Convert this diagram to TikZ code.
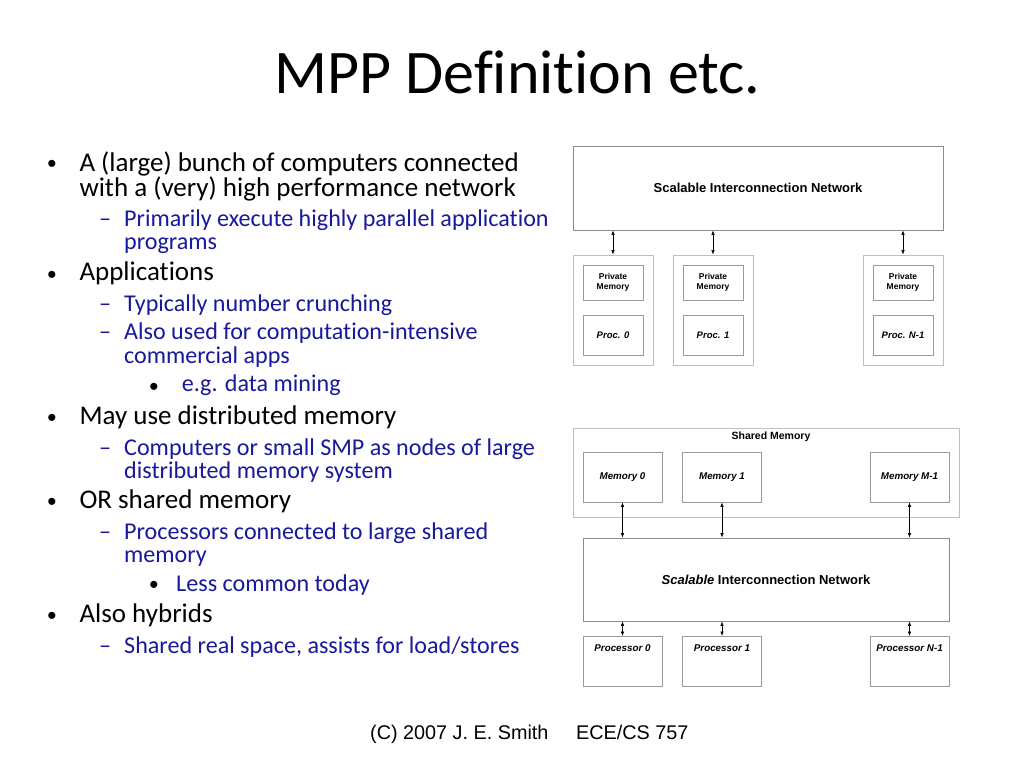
\documentclass[tikz,border=0pt]{standalone}
\usepackage{fontspec}
\setmainfont{Carlito}[Ligatures=NoCommon]
\newfontfamily\diagfont{Liberation Sans}
\usetikzlibrary{arrows.meta}
\definecolor{itemblue}{RGB}{25,25,155}

\begin{document}
\begin{tikzpicture}[x=1pt,y=-1pt,
  lone/.style={font=\fontsize{27}{27}\selectfont, anchor=base west, inner sep=0},
  ltwo/.style={font=\fontsize{24.1}{24.1}\selectfont, text=itemblue, anchor=base west, inner sep=0},
  dot/.style={font=\diagfont\fontsize{26}{26}\selectfont, anchor=center, inner sep=0, yshift=-5.2pt},
  netbox/.style={draw=black!45, line width=0.8pt, font=\diagfont\bfseries\fontsize{13}{15}\selectfont},
  unitbox/.style={draw=black!25, line width=0.8pt},
  cellbox/.style={draw=black!40, line width=0.8pt, inner sep=0, font=\diagfont\bfseries\itshape\fontsize{9.8}{11}\selectfont},
  link/.style={{Latex[length=4.5pt,width=3.5pt]}-{Latex[length=4.5pt,width=3.5pt]}, line width=0.6pt}]
    \fill[white] (0,0) rectangle (1024,768);
    \useasboundingbox (0,0) rectangle (1024,768);

    \node[font=\fontsize{62}{62}\selectfont, anchor=base, inner sep=0] (title) at (517.5,93.3) {MPP Definition etc.};

    % bullet list
    \node[dot] (b1) at (52,161) {•};
    \node[lone] (t1a) at (79.3,171.5) {A (large) bunch of computers connected};
    \node[lone] (t1b) at (79.3,196.5) {with a (very) high performance network};
    \node[ltwo, anchor=base] (d1) at (105,226.3) {–};
    \node[ltwo] (t1c) at (124,226.3) {Primarily execute highly parallel application};
    \node[ltwo] (t1d) at (124,249) {programs};
    \node[dot] (b2) at (52,272) {•};
    \node[lone] (t2a) at (79.3,280) {Applications};
    \node[ltwo, anchor=base] (d2) at (105,311.3) {–};
    \node[ltwo] (t2b) at (124,311.3) {Typically number crunching};
    \node[ltwo, anchor=base] (d3) at (105,339.7) {–};
    \node[ltwo] (t2c) at (124,339.7) {Also used for computation-intensive};
    \node[ltwo] (t2d) at (124,363) {commercial apps};
    \node[dot] (e1) at (154,384) {•};
    \node[ltwo] (t2e) at (181.7,391.8) {e.g. data mining};
    \node[dot] (b3) at (52,415) {•};
    \node[lone] (t3a) at (79.3,424.2) {May use distributed memory};
    \node[ltwo, anchor=base] (d4) at (105,455) {–};
    \node[ltwo] (t3b) at (124,455) {Computers or small SMP as nodes of large};
    \node[ltwo] (t3c) at (124,478) {distributed memory system};
    \node[dot] (b4) at (52,499) {•};
    \node[lone] (t4a) at (79.3,508.8) {OR shared memory};
    \node[ltwo, anchor=base] (d5) at (105,539.5) {–};
    \node[ltwo] (t4b) at (124,539.5) {Processors connected to large shared};
    \node[ltwo] (t4c) at (124,562.7) {memory};
    \node[dot] (e2) at (154,582) {•};
    \node[ltwo] (t4d) at (176,591.8) {Less common today};
    \node[dot] (b5) at (52,613) {•};
    \node[lone] (t5a) at (79.3,622.2) {Also hybrids};
    \node[ltwo, anchor=base] (d6) at (105,653) {–};
    \node[ltwo] (t5b) at (124,653) {Shared real space, assists for load/stores};

    % distributed memory machine
    \node[netbox, minimum width=370pt, minimum height=84pt] (net1) at (758,188) {Scalable Interconnection Network};
    \node[unitbox, minimum width=80pt, minimum height=110pt] (u0) at (613,310) {};
    \node[unitbox, minimum width=80pt, minimum height=110pt] (u1) at (713,310) {};
    \node[unitbox, minimum width=80pt, minimum height=110pt] (u2) at (903,310) {};
    \node[cellbox, font=\diagfont\bfseries\fontsize{8.5}{10}\selectfont, align=center, minimum width=60pt, minimum height=35pt] (pm0) at (613,282.5) {Private\\Memory};
    \node[cellbox, font=\diagfont\bfseries\fontsize{8.5}{10}\selectfont, align=center, minimum width=60pt, minimum height=35pt] (pm1) at (713,282.5) {Private\\Memory};
    \node[cellbox, font=\diagfont\bfseries\fontsize{8.5}{10}\selectfont, align=center, minimum width=60pt, minimum height=35pt] (pm2) at (903,282.5) {Private\\Memory};
    \node[cellbox, font=\diagfont\bfseries\itshape\fontsize{9.5}{11}\selectfont, minimum width=60pt, minimum height=40pt] (pc0) at (613,335) {Proc. 0};
    \node[cellbox, font=\diagfont\bfseries\itshape\fontsize{9.5}{11}\selectfont, minimum width=60pt, minimum height=40pt] (pc1) at (713,335) {Proc. 1};
    \node[cellbox, font=\diagfont\bfseries\itshape\fontsize{9.5}{11}\selectfont, minimum width=60pt, minimum height=40pt] (pc2) at (903,335) {Proc. N-1};
    \draw[link] (net1.south -| u0.north) -- (u0.north);
    \draw[link] (net1.south -| u1.north) -- (u1.north);
    \draw[link] (net1.south -| u2.north) -- (u2.north);

    % shared memory machine
    \node[unitbox, minimum width=386pt, minimum height=89pt] (shm) at (766,472.5) {};
    \node[font=\diagfont\bfseries\fontsize{10.5}{12}\selectfont, inner sep=0] (shmlabel) at (771,437) {Shared Memory};
    \node[cellbox, minimum width=79pt, minimum height=50pt] (m0) at (622.5,477) {Memory 0};
    \node[cellbox, minimum width=79pt, minimum height=50pt] (m1) at (722,477) {Memory 1};
    \node[cellbox, minimum width=79pt, minimum height=50pt] (m2) at (909.5,477) {Memory M-1};
    \node[netbox, minimum width=366pt, minimum height=83pt] (net2) at (766,579.5) {\textit{Scalable} Interconnection Network};
    \node[cellbox, anchor=north, minimum width=79pt, minimum height=50pt, text height=15pt, text depth=35pt] (p0) at (622.5,636) {Processor 0};
    \node[cellbox, anchor=north, minimum width=79pt, minimum height=50pt, text height=15pt, text depth=35pt] (p1) at (722,636) {Processor 1};
    \node[cellbox, anchor=north, minimum width=79pt, minimum height=50pt, text height=15pt, text depth=35pt] (p2) at (909.5,636) {Processor N-1};
    \draw[link] (m0.south) -- (net2.north -| m0.south);
    \draw[link] (m1.south) -- (net2.north -| m1.south);
    \draw[link] (m2.south) -- (net2.north -| m2.south);
    \draw[link] (net2.south -| p0.north) -- (p0.north);
    \draw[link] (net2.south -| p1.north) -- (p1.north);
    \draw[link] (net2.south -| p2.north) -- (p2.north);

    % footer
    \node[font=\diagfont\fontsize{19.8}{22}\selectfont, anchor=base west, inner sep=0] (copy) at (370,739) {(C) 2007 J. E. Smith};
    \node[font=\diagfont\fontsize{19.8}{22}\selectfont, anchor=base west, inner sep=0] (course) at (576,739) {ECE/CS 757};
\end{tikzpicture}
\end{document}
